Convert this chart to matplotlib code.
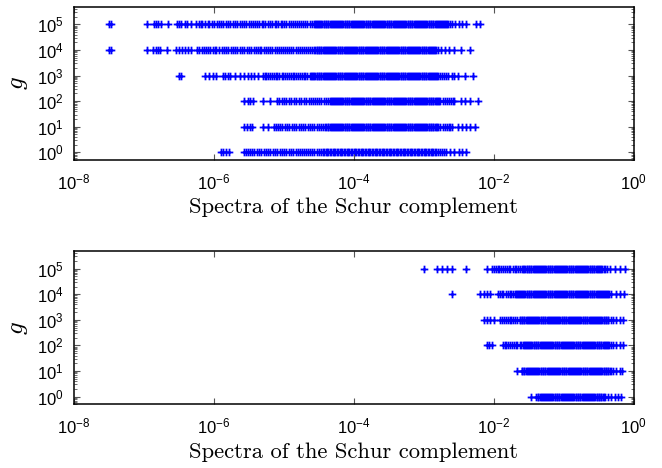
import numpy as np
import matplotlib
matplotlib.use('Agg')
import matplotlib.pyplot as plt
from matplotlib.ticker import FixedLocator, NullLocator, LogLocator, NullFormatter

plt.rcParams['font.family'] = ['Liberation Sans', 'DejaVu Sans']
plt.rcParams['mathtext.fontset'] = 'custom'
plt.rcParams['mathtext.rm'] = 'Liberation Sans'
plt.rcParams['mathtext.it'] = 'Liberation Sans:italic'
plt.rcParams['mathtext.bf'] = 'Liberation Sans:bold'

# g values (rows)
g_values = [1e5, 1e4, 1e3, 1e2, 1e1, 1e0]

# Eigenvalues, stored as 100*log10(lambda)
# ---- top panel ----
top_g1e5 = [-750, -747,
    -695, -685, -682, -679, -675, -665, -653, -650, -646, -641, -638, -633,
    -625, -621, -618, -616, -612, -608, -606, -602, -599, -595, -593, -589, -586, -582, -579,
    -576, -572, -570, -566, -563, -560, -556, -554, -550, -547, -544, -541, -538, -535, -531,
    -529, -526, -522, -520, -517, -513, -511, -508, -504, -502, -499, -496, -493, -490, -487,
    -484, -481, -478, -475, -472, -469, -466, -463, -460, -457,
    -455, -454, -452, -451, -449, -448, -446, -445, -443, -442, -440, -439, -437, -436, -434,
    -433, -431, -430, -428, -427, -425, -424, -422, -421, -419, -418, -416, -415, -413, -412,
    -410, -409, -407, -406, -404, -403, -401, -400, -398, -397, -395, -394, -392, -391, -389,
    -388, -386, -385, -383, -382, -380, -379, -377, -376, -374, -373, -371, -370, -368, -367,
    -365, -364, -362, -361, -359, -358, -356, -355, -353, -352, -350, -349, -347, -346, -344,
    -343, -341, -340, -338, -337, -335, -334, -332, -331, -329, -328, -326, -325, -323, -322,
    -320, -319, -317, -316, -314, -313, -311, -310, -308, -307, -305, -304, -302, -301, -299,
    -298, -296, -295, -293, -292, -290, -289, -287, -286, -284, -283, -281, -280, -278, -277,
    -275, -274, -272, -271, -269, -268, -266, -265, -263,
    -259, -255, -250, -245, -240, -225, -219]

top_g1e4 = [-750, -747,
    -695, -686, -683, -680, -676, -666, -654, -650, -645, -641, -637, -633,
    -624, -621, -617, -614, -611, -608, -605, -601, -598, -596, -592, -588, -585, -583, -579,
    -575, -572, -569, -566, -562, -559, -557, -553, -550, -547, -543, -540, -537, -534, -532,
    -528, -525, -522, -519, -516, -513, -510, -507, -504, -501, -498, -495, -492, -489, -486,
    -483, -480, -477, -474, -471, -468, -465, -462, -459,
    -456, -455, -453, -452, -450, -449, -447, -446, -444, -443, -441, -440, -438, -437, -435,
    -434, -432, -431, -429, -428, -426, -425, -423, -422, -420, -419, -417, -416, -414, -413,
    -411, -410, -408, -407, -405, -404, -402, -401, -399, -398, -396, -395, -393, -392, -390,
    -389, -387, -386, -384, -383, -381, -380, -378, -377, -375, -374, -372, -371, -369, -368,
    -366, -365, -363, -362, -360, -359, -357, -356, -354, -353, -351, -350, -348, -347, -345,
    -344, -342, -341, -339, -338, -336, -335, -333, -332, -330, -329, -327, -326, -324, -323,
    -321, -320, -318, -317, -315, -314, -312, -311, -309, -308, -306, -305, -303, -302, -300,
    -299, -297, -296, -294, -293, -291, -290, -288, -287, -285, -284, -282, -280,
    -275, -270, -264, -256, -246, -234]

top_g1e3 = [-650, -647,
    -613, -607, -601, -596, -587, -584, -580, -576, -570, -563, -556, -551, -546, -542, -537,
    -530, -527, -525, -522, -519, -517, -514, -511, -509, -506, -503, -501, -498, -495, -493,
    -490, -487, -485, -482, -479, -477, -474, -471, -469, -466, -463, -461,
    -459, -458, -456, -455, -453, -452, -450, -449, -447, -446, -444, -443, -441, -440, -438,
    -437, -435, -434, -432, -431, -429, -428, -426, -425, -423, -422, -420, -419, -417, -416,
    -414, -413, -411, -410, -408, -407, -405, -404, -402, -401, -399, -398, -396, -395, -393,
    -392, -390, -389, -387, -386, -384, -383, -381, -380, -378, -377, -375, -374, -372, -371,
    -369, -368, -366, -365, -363, -362, -360, -359, -357, -356, -354, -353, -351, -350, -348,
    -347, -345, -344, -342, -341, -339, -338, -336, -335, -333, -332, -330, -329, -327, -326,
    -324, -323, -321, -320, -318, -317, -315, -314, -312, -311, -309, -308, -306, -305, -303,
    -302, -300, -299, -297, -296, -294, -293, -291, -290, -288, -287, -285, -284, -282, -281,
    -279, -277, -274, -271, -268, -265,
    -260, -256, -251, -241, -230]

top_g1e2 = [-556, -551, -548, -544,
    -530, -520,
    -510, -506, -503, -499, -496, -492, -489, -485, -482, -478, -475, -471, -468, -464, -461,
    -458, -455, -452, -449, -446, -443, -440, -437,
    -434, -433, -431, -430, -428, -427, -425, -424, -422, -421, -419, -418, -416, -415, -413,
    -412, -410, -409, -407, -406, -404, -403, -401, -400, -398, -397, -395, -394, -392, -391,
    -389, -388, -386, -385, -383, -382, -380, -379, -377, -376, -374, -373, -371, -370, -368,
    -367, -365, -364, -362, -361, -359, -358, -356, -355, -353, -352, -350, -349, -347, -346,
    -344, -343, -341, -340, -338, -337, -335, -334, -332, -331, -329, -328, -326, -325, -323,
    -322, -320, -319, -317, -316, -314, -313, -311, -310, -308, -307, -305, -304, -302, -301,
    -299, -298, -296, -295, -293, -292, -290, -289, -287, -286, -284, -283, -281, -280, -278,
    -276, -273, -270, -267, -264, -261, -258, -256,
    -246, -241, -234, -222]

top_g1e1 = [-556, -552, -548, -545,
    -530, -523,
    -514, -511, -508, -505, -502, -498, -495, -492, -488, -485, -482, -478, -475, -472, -469,
    -465, -462, -459, -456, -453, -450, -447, -444, -441, -439,
    -437, -436, -434, -433, -431, -430, -428, -427, -425, -424, -422, -421, -419, -418, -416,
    -415, -413, -412, -410, -409, -407, -406, -404, -403, -401, -400, -398, -397, -395, -394,
    -392, -391, -389, -388, -386, -385, -383, -382, -380, -379, -377, -376, -374, -373, -371,
    -370, -368, -367, -365, -364, -362, -361, -359, -358, -356, -355, -353, -352, -350, -349,
    -347, -346, -344, -343, -341, -340, -338, -337, -335, -334, -332, -331, -329, -328, -326,
    -325, -323, -322, -320, -319, -317, -316, -314, -313, -311, -310, -308, -307, -305, -304,
    -302, -301, -299, -298, -296, -295, -293, -292, -290, -289, -287, -286, -284, -283, -281,
    -279, -276, -273, -270, -267, -264, -262, -260,
    -251, -245, -239, -234, -227]

top_g1e0 = [-590, -586, -582, -578,
    -557, -554, -551, -548, -545, -542, -538, -535, -532, -528, -525, -522, -519, -515, -512,
    -509, -505, -502, -499, -496, -492, -489, -486, -483, -480, -477, -474, -471, -468, -465,
    -462, -459, -456, -453, -450, -447,
    -444, -442, -440, -438, -436, -434, -432, -430, -428, -426, -424, -422, -420, -418, -416,
    -414, -412, -410, -408, -406, -404, -402, -400, -398, -396, -394, -392, -390, -388, -386,
    -384, -382, -380, -378, -376, -374, -372, -370, -368, -366, -364, -362, -360, -358, -356,
    -354, -352, -350, -348, -346, -344, -342, -340, -338, -336, -334, -332, -330, -328, -326,
    -324, -322, -320, -318, -316, -314, -312, -310, -308, -306, -304, -302, -300, -298, -296,
    -294, -292, -290, -288, -286, -284, -282, -280, -277, -274, -271, -268,
    -263, -256, -249, -245, -239]

# ---- bottom panel ----
bot_g1e5 = [-300, -281, -274, -267, -259, -240, -210,
    -203, -200, -197, -194, -192, -189, -186, -184, -181, -178, -176, -173, -170, -168, -165,
    -162,
    -159, -158, -156, -155, -153, -152, -150, -149, -147, -146, -144, -143, -141, -140, -138,
    -137, -135, -134, -132, -131, -129, -128, -126, -125, -123, -122, -120, -119, -117, -116,
    -114, -113, -111, -110, -108, -107, -105, -104, -102, -101, -99, -98, -96, -95, -93, -92,
    -90, -89, -87, -86, -84, -83, -81, -80, -78, -77, -75, -74, -72, -71, -69, -68, -66, -65,
    -63, -62, -60, -59, -57, -56, -54, -53, -51, -50, -48, -47, -45, -43, -41, -38,
    -34, -27, -20, -13]

bot_g1e4 = [-260, -219, -214, -210, -205,
    -194, -191, -188, -186, -183, -180, -177, -175, -172, -170,
    -168, -167, -165, -164, -162, -161, -159, -158, -156, -155, -153, -152, -150, -149, -147,
    -146, -144, -143, -141, -140, -138, -137, -135, -134, -132, -131, -129, -128, -126, -125,
    -123, -122, -120, -119, -117, -116, -114, -113, -111, -110, -108, -107, -105, -104, -102,
    -101, -99, -98, -96, -95, -93, -92, -90, -89, -87, -86, -84, -83, -81, -80, -78, -77, -75,
    -74, -72, -71, -69, -68, -66, -65, -63, -62, -60, -59, -57, -56, -54, -53, -51, -50, -48,
    -47, -45, -44, -42, -41, -39, -38, -36, -35, -32,
    -25, -20, -14]

bot_g1e3 = [-214, -210, -205, -200,
    -191, -188, -185, -183, -180, -177, -175, -172, -169, -166,
    -163, -162, -160, -159, -157, -156, -154, -153, -151, -150, -148, -147, -145, -144, -142,
    -141, -139, -138, -136, -135, -133, -132, -130, -129, -127, -126, -124, -123, -121, -120,
    -118, -117, -115, -114, -112, -111, -109, -108, -106, -105, -103, -102, -100, -99, -97,
    -96, -94, -93, -91, -90, -88, -87, -85, -84, -82, -81, -79, -78, -76, -75, -73, -72, -70,
    -69, -67, -66, -64, -63, -61, -60, -58, -57, -55, -54, -52, -51, -49, -48, -46, -45, -43,
    -42, -40, -39, -37, -36, -33, -30,
    -25, -20, -15]

bot_g1e2 = [-210, -206, -202,
    -187, -184, -182, -179, -176, -174, -171, -168, -166, -163, -161,
    -158, -157, -155, -154, -152, -151, -149, -148, -146, -145, -143, -142, -140, -139, -137,
    -136, -134, -133, -131, -130, -128, -127, -125, -124, -122, -121, -119, -118, -116, -115,
    -113, -112, -110, -109, -107, -106, -104, -103, -101, -100, -98, -97, -95, -94, -92, -91,
    -89, -88, -86, -85, -83, -82, -80, -79, -77, -76, -74, -73, -71, -70, -68, -67, -65, -64,
    -62, -61, -59, -58, -56, -55, -53, -52, -50, -49, -47, -46, -44, -43, -41, -40, -38, -37,
    -35, -33, -30,
    -25, -20, -15]

bot_g1e1 = [-167,
    -160, -159, -157, -156, -154, -153, -151, -150, -148, -147, -145, -144, -142, -141, -139,
    -138, -136, -135, -133, -132, -130, -129, -127, -126, -124, -123, -121, -120, -118, -117,
    -115, -114, -112, -111, -109, -108, -106, -105, -103, -102, -100, -99, -97, -96, -94, -93,
    -91, -90, -88, -87, -85, -84, -82, -81, -79, -78, -76, -75, -73, -72, -70, -69, -67, -66,
    -64, -63, -61, -60, -58, -57, -55, -54, -52, -51, -49, -48, -46, -45, -43, -42, -40, -39,
    -37, -36, -34, -33, -30,
    -25, -20, -16]

bot_g1e0 = [-146, -139,
    -137, -136, -134, -133, -131, -130, -128, -127, -125, -124, -122, -121, -119, -118, -116,
    -115, -113, -112, -110, -109, -107, -106, -104, -103, -101, -100, -98, -97, -95, -94, -92,
    -91, -89, -88, -86, -85, -83, -82, -80, -79, -77, -76, -74, -73, -71, -70, -68, -67, -65,
    -64, -62, -61, -59, -58, -56, -55, -53, -52, -50, -49, -47, -46, -44, -43, -41,
    -37, -32, -27, -22, -18]

top_rows = [top_g1e5, top_g1e4, top_g1e3, top_g1e2, top_g1e1, top_g1e0]
bot_rows = [bot_g1e5, bot_g1e4, bot_g1e3, bot_g1e2, bot_g1e1, bot_g1e0]

x_ticks = [1e-8, 1e-6, 1e-4, 1e-2, 1e0]
y_ticks = [1e0, 1e1, 1e2, 1e3, 1e4, 1e5]

fig = plt.figure(figsize=(6.62, 4.68), dpi=100)
ax1 = fig.add_axes([0.1113, 0.6581, 0.8459, 0.3276])
ax2 = fig.add_axes([0.1113, 0.1361, 0.8459, 0.3276])

for ax, rows in ((ax1, top_rows), (ax2, bot_rows)):
    for g, exps in zip(g_values, rows):
        xs = 10.0 ** (np.array(exps, dtype=float) / 100.0)
        ax.scatter(xs, np.full(len(xs), g), marker='+', s=30, linewidths=1.3,
                   color='#0000ff', snap=False, antialiased=False)
    ax.set_xscale('log')
    ax.set_yscale('log')
    ax.set_xlim(1e-8, 1e0)
    ax.set_ylim(0.5, 4.9e5)
    ax.xaxis.set_major_locator(FixedLocator(x_ticks))
    ax.xaxis.set_minor_locator(NullLocator())
    ax.yaxis.set_major_locator(FixedLocator(y_ticks))
    ax.yaxis.set_minor_locator(LogLocator(base=10, subs=np.arange(2, 10), numticks=20))
    ax.yaxis.set_minor_formatter(NullFormatter())
    ax.tick_params(which='both', direction='in', top=True, right=True,
                   color='#555555', labelsize=12, labelcolor='black')
    ax.tick_params(which='major', length=4, width=0.8)
    ax.tick_params(axis='x', which='major', pad=9)
    ax.tick_params(axis='y', which='major', pad=7)
    ax.tick_params(which='minor', length=2, width=0.6)
    for s in ax.spines.values():
        s.set_linewidth(1.1)
    ax.set_xlabel('Spectra of the Schur complement', fontfamily='cmr10',
                  fontsize=16.3, labelpad=4)
    ax.set_ylabel('$g$', math_fontfamily='cm', fontsize=18, labelpad=5)

fig.savefig('out.png', dpi=100)
